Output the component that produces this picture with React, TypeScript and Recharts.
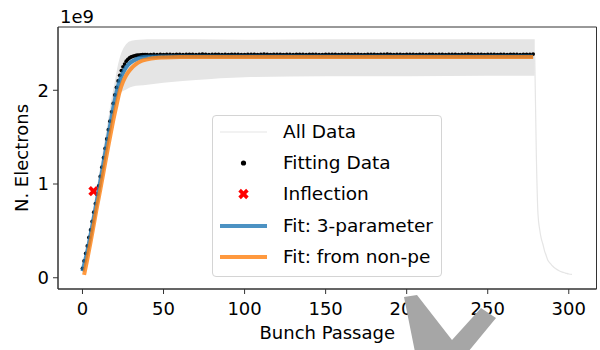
import React from "react";
import {
  ComposedChart,
  Area,
  Line,
  Scatter,
  XAxis,
  YAxis,
  Legend,
  Label,
  ReferenceArea,
} from "recharts";

const FONT = "'DejaVu Sans', sans-serif";

// axis ticks (y in units of 1e9)
const xTicks = [0, 50, 100, 150, 200, 250, 300];
const yTicks = [0, 1, 2];

// All Data: spread of the raw signal along the train
const bandX = [1, 5, 10, 15, 18, 20, 22, 24, 26, 28, 31, 35, 40, 50, 70, 100, 150, 200, 250, 279];
const bandLow = [0.08, 0.42, 0.9, 1.4, 1.68, 1.82, 1.92, 1.98, 2.0, 2.02, 2.04, 2.05, 2.06, 2.08, 2.11, 2.14, 2.15, 2.15, 2.155, 2.155];
const bandHigh = [0.2, 0.58, 1.08, 1.6, 1.92, 2.1, 2.28, 2.4, 2.47, 2.51, 2.53, 2.54, 2.545, 2.545, 2.545, 2.54, 2.545, 2.545, 2.545, 2.545];

// All Data: decay after the train
const tailX = [279, 280, 281, 282, 283, 284, 285, 286, 287, 288, 289, 290, 292, 294, 296, 298, 300, 302];
const tailY = [2.36, 1.3, 0.68, 0.52, 0.42, 0.36, 0.29, 0.24, 0.19, 0.165, 0.145, 0.125, 0.095, 0.075, 0.06, 0.05, 0.04, 0.035];

// Fitting Data: every bunch 0..40
const riseY = [
  0.1, 0.18, 0.26, 0.34, 0.43, 0.51, 0.6, 0.7, 0.79, 0.89,
  0.98, 1.08, 1.18, 1.28, 1.38, 1.48, 1.58, 1.67, 1.77, 1.86,
  1.95, 2.03, 2.1, 2.16, 2.21, 2.25, 2.28, 2.31, 2.33, 2.345,
  2.355, 2.362, 2.367, 2.371, 2.374, 2.376, 2.378, 2.379, 2.38, 2.38,
  2.381,
];
// Fitting Data: every second bunch 42..278
const plateauY = [
  2.381, 2.382, 2.38, 2.383, 2.381, 2.384, 2.382, 2.38, 2.383, 2.382,
  2.381, 2.383, 2.384, 2.382, 2.38, 2.382, 2.385, 2.383, 2.381, 2.382,
  2.384, 2.382, 2.38, 2.383, 2.381, 2.382, 2.384, 2.383, 2.381, 2.38,
  2.382, 2.384, 2.383, 2.381, 2.382, 2.385, 2.383, 2.381, 2.382, 2.384,
  2.382, 2.38, 2.383, 2.382, 2.381, 2.384, 2.382, 2.383, 2.381, 2.382,
  2.384, 2.383, 2.381, 2.38, 2.382, 2.384, 2.383, 2.382, 2.381, 2.383,
  2.382, 2.384, 2.381, 2.382, 2.383, 2.381, 2.38, 2.382, 2.384, 2.383,
  2.381, 2.382, 2.383, 2.385, 2.382, 2.381, 2.383, 2.382, 2.38, 2.382,
  2.384, 2.383, 2.381, 2.382, 2.383, 2.381, 2.384, 2.382, 2.381, 2.383,
  2.382, 2.38, 2.382, 2.384, 2.383, 2.381, 2.382, 2.383, 2.385, 2.382,
  2.381, 2.383, 2.382, 2.38, 2.382, 2.384, 2.383, 2.381, 2.382, 2.383,
  2.381, 2.384, 2.382, 2.383, 2.381, 2.382, 2.384, 2.383, 2.386,
];

const inflection = [{ x: 6.8, y: 0.925 }];

// Fit: 3-parameter
const fit3X = [0, 2, 4, 6, 8, 10, 12, 14, 16, 18, 20, 22, 24, 26, 28, 30, 33, 36, 40, 50, 278];
const fit3Y = [0.07, 0.21, 0.37, 0.55, 0.74, 0.93, 1.13, 1.33, 1.52, 1.72, 1.9, 2.05, 2.15, 2.22, 2.27, 2.3, 2.33, 2.35, 2.357, 2.36, 2.36];

// Fit: from non-pe
const fitPeX = [1, 3, 5, 7, 9, 11, 13, 15, 17, 19, 21, 23, 25, 27, 29, 31, 33, 36, 40, 45, 50, 60, 278];
const fitPeY = [0.03, 0.2, 0.38, 0.57, 0.76, 0.94, 1.13, 1.32, 1.5, 1.68, 1.84, 1.99, 2.09, 2.16, 2.21, 2.25, 2.28, 2.31, 2.33, 2.345, 2.35, 2.355, 2.355];

const legendNames = ["All Data", "Fitting Data", "Inflection", "Fit: 3-parameter", "Fit: from non-pe"];

const BLUE = "#1f77b4";
const ORANGE = "#ff7f0e";
const GREY = "#e5e5e5";

const bandData = bandX.map((x, i) => ({ x, band: [bandLow[i], bandHigh[i]] }));
const tailData = tailX.map((x, i) => ({ x, y: tailY[i] }));
const fittingData = [
  ...riseY.map((y, i) => ({ x: i, y })),
  ...plateauY.map((y, i) => ({ x: 42 + 2 * i, y })),
];
const fit3Data = fit3X.map((x, i) => ({ x, y: fit3Y[i] }));
const fitPeData = fitPeX.map((x, i) => ({ x, y: fitPeY[i] }));

const Dot = (props: any) => <circle cx={props.cx} cy={props.cy} r={1.9} fill="#000" />;

const Cross = ({ cx, cy }: any) => (
  <g transform={`translate(${cx},${cy}) rotate(45)`} fill="#ff0000">
    <rect x={-5.5} y={-1.8} width={11} height={3.6} />
    <rect x={-1.8} y={-5.5} width={3.6} height={11} />
  </g>
);

const legendIcon = (i: number) => {
  if (i === 0) return <line x1={0} y1={8} x2={47} y2={8} stroke={GREY} strokeWidth={1.2} />;
  if (i === 1) return <circle cx={23.5} cy={8} r={2.6} fill="#000" />;
  if (i === 2) return <Cross cx={23.5} cy={8} />;
  const c = i === 3 ? BLUE : ORANGE;
  return <line x1={0} y1={8} x2={47} y2={8} stroke={c} strokeOpacity={0.8} strokeWidth={4} />;
};

const LegendBox = () => (
  <div
    style={{
      width: 230,
      height: 162,
      boxSizing: "border-box",
      border: "1px solid #d4d4d4",
      borderRadius: 4,
      background: "rgba(255,255,255,0.8)",
      position: "relative",
      fontFamily: FONT,
      fontSize: 18.5,
      color: "#000",
    }}
  >
    {legendNames.map((name, i) => (
      <div key={name} style={{ position: "absolute", left: 0, top: 16 + 31.2 * i - 8, height: 16, width: 228 }}>
        <svg width={48} height={16} style={{ position: "absolute", left: 7 }}>
          {legendIcon(i)}
        </svg>
        <span style={{ position: "absolute", left: 70, top: -4, lineHeight: "24px", whiteSpace: "nowrap" }}>{name}</span>
      </div>
    ))}
  </div>
);

const yLabel = (props: any) => {
  const { x, y, height } = props.viewBox;
  const cx = x + 21;
  const cy = y + height / 2;
  return (
    <text x={cx} y={cy} transform={`rotate(-90 ${cx} ${cy})`} textAnchor="middle" dominantBaseline="central" fontSize={18} fill="#000">
      N. Electrons
    </text>
  );
};

const xLabel = (props: any) => {
  const { x, y, width } = props.viewBox;
  return (
    <text x={x + width / 2} y={y + 50} textAnchor="middle" fontSize={18} fill="#000">
      Bunch Passage
    </text>
  );
};

const scaleLabel = (props: any) => {
  const { x, y } = props.viewBox;
  return (
    <text x={x + 2} y={y - 4} fontSize={18} fill="#000">
      1e9
    </text>
  );
};

export default function App() {
  const xDomain = [-15.1, 317.1];
  const yDomain = [-0.12, 2.675];
  const tick = { fontSize: 18, fill: "#000" };

  return (
    <div style={{ position: "absolute", left: 0, top: 0, width: 600, height: 350, background: "#fff", fontFamily: FONT }}>
      <ComposedChart width={600} height={350} margin={{ top: 27, right: 3.5, bottom: 0, left: 0 }}>
        <XAxis
          dataKey="x"
          type="number"
          domain={xDomain}
          allowDataOverflow
          ticks={xTicks}
          interval={0}
          height={61}
          tick={tick}
          tickSize={5}
          tickMargin={8}
          stroke="#333"
          label={<Label content={xLabel} />}
        />
        <YAxis
          type="number"
          domain={yDomain}
          allowDataOverflow
          ticks={yTicks}
          interval={0}
          width={58}
          tick={tick}
          tickSize={5}
          tickMargin={4}
          stroke="#333"
          label={<Label content={yLabel} />}
        />

        <Area data={bandData} dataKey="band" type="monotone" fill={GREY} fillOpacity={1} stroke="none" isAnimationActive={false} />
        <Line data={tailData} dataKey="y" type="monotone" stroke={GREY} strokeWidth={1.2} dot={false} isAnimationActive={false} />
        <Scatter data={fittingData} dataKey="y" shape={Dot} zIndex={350} isAnimationActive={false} />
        <Scatter data={inflection} dataKey="y" shape={Cross} zIndex={360} isAnimationActive={false} />
        <Line data={fit3Data} dataKey="y" type="monotone" stroke={BLUE} strokeOpacity={0.8} strokeWidth={4} dot={false} isAnimationActive={false} />
        <Line data={fitPeData} dataKey="y" type="monotone" stroke={ORANGE} strokeOpacity={0.8} strokeWidth={4} dot={false} isAnimationActive={false} />

        <ReferenceArea
          x1={xDomain[0]}
          x2={xDomain[1]}
          y1={yDomain[0]}
          y2={yDomain[1]}
          fill="none"
          stroke="#333"
          strokeWidth={1}
          ifOverflow="visible"
          label={<Label content={scaleLabel} />}
        />

        <Legend
          layout="horizontal"
          verticalAlign="middle"
          align="center"
          content={() => <LegendBox />}
          wrapperStyle={{ left: 212, top: 115, width: 230, height: 162 }}
        />
      </ComposedChart>

      <svg width={600} height={350} style={{ position: "absolute", left: 0, top: 0, pointerEvents: "none" }}>
        <polygon points="404,297 417,295 452,340 481,308 496,318 468,352 415,352" fill="#a6a6a6" />
      </svg>
    </div>
  );
}
